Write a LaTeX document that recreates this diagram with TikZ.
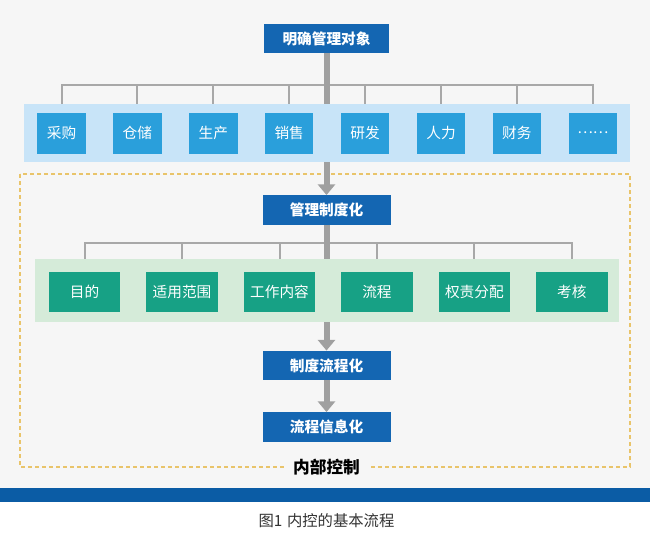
\documentclass[tikz,border=0pt]{standalone}
\usepackage{fontspec}
\setmainfont{Noto Sans CJK SC}
\usetikzlibrary{arrows.meta}
\definecolor{bgc}{HTML}{F6F6F6}
\definecolor{darkblue}{HTML}{1466B2}
\definecolor{midblue}{HTML}{2A9FDB}
\definecolor{lightblue}{HTML}{C8E4F8}
\definecolor{teal}{HTML}{17A185}
\definecolor{lightgreen}{HTML}{D5EBD9}
\definecolor{trunkgray}{HTML}{A0A0A0}
\definecolor{brgray}{HTML}{A8A8A8}
\definecolor{gold}{HTML}{E9C46A}
\definecolor{barblue}{HTML}{0B5CA5}
\tikzset{
  headbox/.style={fill=darkblue, text=white, font=\bfseries\fontsize{11}{13}\selectfont, inner sep=0pt, minimum width=96pt, minimum height=22pt},
  deptbox/.style={fill=midblue, text=white, font=\fontsize{11}{13}\selectfont, inner sep=0pt, minimum width=36.4pt, minimum height=30.75pt},
  rulebox/.style={fill=teal, text=white, font=\fontsize{11}{13}\selectfont, inner sep=0pt, minimum width=53.6pt, minimum height=30pt},
  bandblue/.style={fill=lightblue, inner sep=0pt, minimum width=454.5pt, minimum height=43.5pt},
  bandgreen/.style={fill=lightgreen, inner sep=0pt, minimum width=438pt, minimum height=47.25pt},
  trunk/.style={draw=trunkgray, line width=4.5pt},
  trunkarrow/.style={trunk, -{Triangle[width=12.75pt, length=8pt]}},
  bracket/.style={draw=brgray, line width=1.5pt, line join=miter},
  frame/.style={draw=gold, line width=1pt, dash pattern=on 3pt off 2.25pt},
}
\begin{document}
\begin{tikzpicture}[x=0.75pt, y=-0.75pt]
\useasboundingbox (0,0) rectangle (650,536);
\fill[white] (0,0) rectangle (650,536);
\fill[bgc] (0,0) rectangle (650,488);
\fill[barblue] (0,488) rectangle (650,502);

% dotted frame
\draw[frame] (20,174) rectangle (630,467);

% top
\node[headbox, minimum width=94pt] (top) at (326.5,38.5) {明确管理对象};
\node[bandblue] (bandA) at (327,133) {};
\foreach \t [count=\i] in {采购,仓储,生产,销售,研发,人力,财务,……}{
  \node[deptbox] (d\i) at ({61.5+75.9*(\i-1)},133) {\t};
}
\coordinate (bkA) at (0,85);
\draw[bracket] (d1 |- bandA.north) -- (d1 |- bkA) -- (d8 |- bkA) -- (d8 |- bandA.north);
\foreach \i in {2,...,7}{
  \draw[bracket] (d\i |- bkA) -- (d\i |- bandA.north);
}
\draw[trunk] (top.south) -- (top.south |- bandA.north);

% 管理制度化
\node[headbox] (mgmt) at (326.5,210) {管理制度化};
\draw[trunkarrow] (mgmt.north |- bandA.south) -- (mgmt.north);

\node[bandgreen] (bandB) at (327,290.5) {};
\foreach \t [count=\i] in {目的,适用范围,工作内容,流程,权责分配,考核}{
  \node[rulebox] (r\i) at ({84.6+97.45*(\i-1)},291.5) {\t};
}
\coordinate (bkB) at (0,242.5);
\draw[bracket] (r1 |- bandB.north) -- (r1 |- bkB) -- (r6 |- bkB) -- (r6 |- bandB.north);
\foreach \i in {2,...,5}{
  \draw[bracket] (r\i |- bkB) -- (r\i |- bandB.north);
}
\draw[trunk] (mgmt.south) -- (mgmt.south |- bandB.north);

% lower steps
\node[headbox] (proc) at (326.5,365.5) {制度流程化};
\draw[trunkarrow] (proc.north |- bandB.south) -- (proc.north);
\node[headbox] (info) at (326.5,427) {流程信息化};
\draw[trunkarrow] (proc.south) -- (info.north);

% frame label
\node[fill=bgc, inner xsep=7pt, inner ysep=2pt, font=\bfseries\fontsize{12.5}{14}\selectfont] (ic) at (326.5,467) {内部控制};

% caption
\node[font=\fontsize{11.5}{13}\selectfont, text=black!80] (cap) at (326.5,521) {图1\hspace{0.3em}内控的基本流程};
\end{tikzpicture}
\end{document}
